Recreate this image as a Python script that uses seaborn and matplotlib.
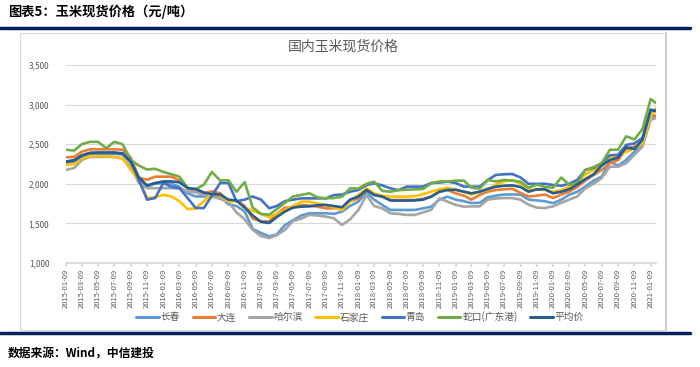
import pandas as pd
import numpy as np
import matplotlib
matplotlib.use("Agg")
import matplotlib.pyplot as plt
import matplotlib.dates as mdates
from matplotlib.patches import Rectangle
from matplotlib.lines import Line2D
import seaborn as sns

sns.set_theme(style="white")
plt.rcParams['font.family'] = ['Noto Sans CJK SC', 'DejaVu Sans']
plt.rcParams['axes.unicode_minus'] = False

# monthly readings (9th of each month, 2015-01 .. 2021-01) plus last print 2021-01-29
dates = list(pd.date_range('2015-01-01', periods=73, freq='MS') + pd.Timedelta(days=8)) + [pd.Timestamp('2021-01-29')]

changchun = [2260, 2280, 2340, 2380, 2380, 2380, 2380, 2370, 2270, 2030, 1970, 2000,
             2010, 2000, 1960, 1880, 1840, 1840, 1840, 1840, 1740, 1720, 1650, 1430,
             1380, 1336, 1360, 1480, 1540, 1600, 1628, 1628, 1628, 1620, 1649, 1720,
             1775, 1890, 1800, 1733, 1670, 1670, 1670, 1670, 1690, 1711, 1800, 1838,
             1800, 1780, 1757, 1760, 1830, 1850, 1865, 1865, 1865, 1800, 1790, 1780,
             1756, 1800, 1860, 1900, 1965, 2040, 2090, 2280, 2230, 2300, 2405, 2490,
             2850, 2850]
dalian = [2335, 2340, 2405, 2435, 2435, 2435, 2435, 2430, 2330, 2080, 2050, 2090,
          2090, 2090, 2040, 1945, 1910, 1880, 1905, 1880, 1780, 1790, 1720, 1560,
          1526, 1526, 1620, 1700, 1700, 1733, 1725, 1711, 1690, 1690, 1690, 1780,
          1816, 1922, 1860, 1838, 1796, 1796, 1796, 1796, 1810, 1838, 1900, 1922,
          1880, 1850, 1800, 1860, 1900, 1922, 1930, 1938, 1885, 1840, 1850, 1865,
          1820, 1865, 1900, 1960, 2040, 2110, 2175, 2260, 2300, 2440, 2470, 2520,
          2900, 2850]
haerbin = [2175, 2200, 2300, 2340, 2340, 2340, 2340, 2320, 2215, 2010, 1945, 1945,
           1945, 1945, 1940, 1905, 1893, 1860, 1840, 1810, 1770, 1640, 1550, 1420,
           1340, 1315, 1350, 1420, 1530, 1560, 1607, 1600, 1586, 1565, 1480, 1550,
           1670, 1858, 1720, 1690, 1628, 1620, 1607, 1607, 1640, 1670, 1816, 1775,
           1733, 1711, 1715, 1715, 1800, 1815, 1820, 1820, 1800, 1736, 1700, 1694,
           1715, 1760, 1800, 1840, 1943, 2000, 2070, 2216, 2216, 2260, 2365, 2470,
           2810, 2830]
shijiazhuang = [2238, 2250, 2320, 2350, 2350, 2350, 2340, 2320, 2175, 2050, 1820, 1830,
                1860, 1840, 1780, 1680, 1690, 1780, 1880, 1850, 1780, 1780, 1700, 1660,
                1620, 1580, 1620, 1670, 1720, 1775, 1775, 1750, 1733, 1700, 1670, 1780,
                1858, 1943, 1880, 1850, 1838, 1838, 1838, 1845, 1870, 1900, 1930, 1950,
                1922, 1900, 1865, 1900, 1930, 1990, 2030, 2048, 2000, 1922, 1925, 1925,
                1900, 1920, 1960, 2020, 2120, 2175, 2250, 2320, 2360, 2400, 2450, 2510,
                2850, 2955]
qingdao = [2280, 2290, 2350, 2390, 2390, 2390, 2390, 2380, 2280, 2050, 1800, 1820,
           2010, 1960, 1945, 1820, 1694, 1694, 1850, 2010, 2010, 1780, 1800, 1840,
           1800, 1690, 1720, 1780, 1800, 1816, 1816, 1816, 1816, 1858, 1865, 1900,
           1922, 1985, 2006, 1980, 1943, 1920, 1964, 1964, 1964, 2010, 2015, 2027,
           2010, 1964, 1964, 1964, 2048, 2112, 2120, 2124, 2080, 2000, 2000, 2000,
           1985, 1975, 2000, 2050, 2175, 2200, 2260, 2360, 2365, 2490, 2510, 2580,
           2935, 2915]
shekou = [2430, 2420, 2500, 2530, 2530, 2450, 2530, 2500, 2300, 2230, 2180, 2190,
          2150, 2120, 2090, 1950, 1930, 1990, 2150, 2040, 2045, 1900, 2020, 1700,
          1620, 1610, 1680, 1760, 1840, 1860, 1880, 1830, 1816, 1820, 1838, 1943,
          1940, 2000, 2027, 1910, 1900, 1920, 1925, 1930, 1935, 2006, 2030, 2030,
          2040, 2040, 1950, 1940, 2048, 2030, 2048, 2040, 2027, 1950, 1990, 1960,
          1950, 2080, 1990, 2006, 2175, 2210, 2260, 2430, 2430, 2600, 2560, 2690,
          3070, 3020]
average = [2280, 2300, 2360, 2390, 2395, 2395, 2395, 2385, 2280, 2080, 1980, 2010,
           2030, 2030, 2020, 1945, 1935, 1890, 1870, 1865, 1800, 1790, 1700, 1600,
           1520, 1505, 1580, 1650, 1700, 1711, 1715, 1730, 1733, 1720, 1704, 1800,
           1838, 1922, 1860, 1838, 1790, 1788, 1788, 1790, 1800, 1838, 1900, 1922,
           1925, 1900, 1880, 1900, 1935, 1964, 1975, 1980, 1960, 1900, 1930, 1930,
           1880, 1900, 1930, 1990, 2060, 2120, 2230, 2300, 2330, 2460, 2440, 2555,
           2935, 2920]

names = ['长春', '大连', '哈尔滨', '石家庄', '青岛', '蛇口(广东港)', '平均价']
series = [changchun, dalian, haerbin, shijiazhuang, qingdao, shekou, average]
colors = ['#5B9BD5', '#ED7D31', '#A5A5A5', '#FFC000', '#4472C4', '#70AD47', '#255E91']

df = pd.concat([pd.DataFrame({'date': dates, 'price': v, 'city': n})
                for n, v in zip(names, series)], ignore_index=True)

fig = plt.figure(figsize=(7, 3.67), dpi=100)

# header / footer decorations
fig.text(8 / 700, 1 - 12 / 367, '图表5：玉米现货价格（元/吨）', fontsize=9.5, fontweight='bold',
         color='black', va='center', ha='left')
fig.add_artist(Line2D([0, 690 / 700], [1 - 28 / 367] * 2, color='#002060', lw=2.5))
fig.add_artist(Line2D([0, 690 / 700], [1 - 333 / 367] * 2, color='#002060', lw=2.5))
fig.text(8 / 700, 1 - 354 / 367, '数据来源：Wind，中信建投', fontsize=8.5, fontstyle='italic',
         fontweight='bold', color='black', va='center', ha='left')

# chart frame
fig.add_artist(Rectangle((20 / 700, 1 - 330 / 367), 645 / 700, 297 / 367, transform=fig.transFigure,
                         fill=False, edgecolor='#D9D9D9', lw=0.8))
fig.add_artist(Line2D([666 / 700] * 2, [1 - 331 / 367, 1 - 33 / 367], color='#CFCFCF', lw=1.5))

fig.text(343 / 700, 1 - 47 / 367, '国内玉米现货价格', fontsize=10, color='#595959',
         ha='center', va='center')

ax = fig.add_axes([66 / 700, 1 - 263 / 367, 590 / 700, 198 / 367])
sns.lineplot(data=df, x='date', y='price', hue='city', palette=dict(zip(names, colors)),
             hue_order=names, lw=1.9, ax=ax, legend=False)

ax.set_ylim(1000, 3500)
ax.set_yticks(np.arange(1000, 3501, 500))
ax.set_yticklabels([f'{v:,}' for v in range(1000, 3501, 500)])
ax.set_xlim(pd.Timestamp('2015-01-09'), pd.Timestamp('2021-01-29'))
ax.xaxis.set_major_locator(mdates.MonthLocator(bymonth=range(1, 13, 2), bymonthday=9))
ax.xaxis.set_major_formatter(mdates.DateFormatter('%Y-%m-%d'))
ax.tick_params(axis='x', rotation=90, labelsize=5.5, colors='#595959', length=3, color='#D9D9D9',
               pad=1, bottom=True)
ax.tick_params(axis='y', labelsize=6, colors='#595959', length=0, pad=12)
ax.set_xlabel('')
ax.set_ylabel('')
ax.grid(axis='y', color='#D9D9D9', lw=0.8)
ax.grid(axis='x', visible=False)
for s in ['top', 'right', 'left']:
    ax.spines[s].set_visible(False)
ax.spines['bottom'].set_color('#D9D9D9')

handles = [Line2D([0], [0], color=c, lw=2.2) for c in colors]
fig.legend(handles, names, loc='center', bbox_to_anchor=(360 / 700, 1 - 317 / 367), ncol=7,
           frameon=False, fontsize=7, handlelength=2.3, columnspacing=1.3, handletextpad=0.2,
           labelcolor='#595959')

fig.savefig('out.png', dpi=100)
